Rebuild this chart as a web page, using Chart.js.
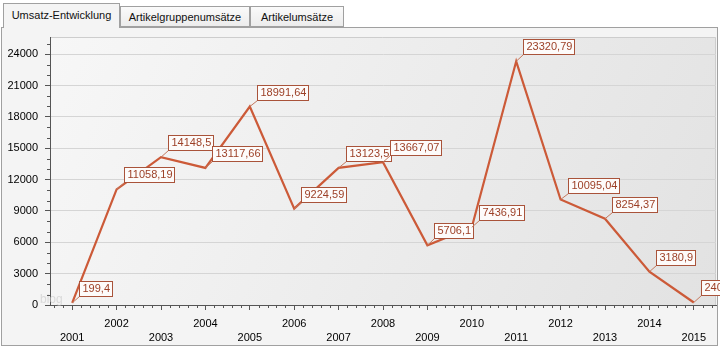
<!DOCTYPE html>
<html><head><meta charset="utf-8">
<script src="https://cdn.jsdelivr.net/npm/chart.js@4.4.1/dist/chart.umd.min.js"></script>
<style>
html,body{margin:0;padding:0;background:#ffffff;width:720px;height:347px;overflow:hidden;font-family:"Liberation Sans",Arial,sans-serif;}
#panel{position:absolute;left:1px;top:27px;width:715px;height:317px;border:1px solid #a0a0a0;background:#f4f4f4;}
.tab{position:absolute;box-sizing:border-box;border:1px solid #a0a0a0;font-size:11px;color:#111;text-align:center;background:linear-gradient(#fafafa,#ececec);}
#t1{left:3px;top:3px;width:117px;height:25px;line-height:23px;background:#f4f4f4;border-bottom:none;z-index:3;}
#t2{left:120px;top:6px;width:130px;height:21px;line-height:20px;}
#t3{left:250px;top:6px;width:94px;height:21px;line-height:20px;}
#wrap{position:absolute;left:0;top:0;width:720px;height:347px;z-index:2;}
</style></head>
<body>
<div id="panel"></div>
<div class="tab" id="t1">Umsatz-Entwicklung</div>
<div class="tab" id="t2">Artikelgruppenumsätze</div>
<div class="tab" id="t3">Artikelumsätze</div>
<div id="wrap"><canvas id="c" width="720" height="347"></canvas></div>
<script>
const years = ['2001','2002','2003','2004','2005','2006','2007','2008','2009','2010','2011','2012','2013','2014','2015'];
const sales = [199.4, 11058.19, 14148.5, 13117.66, 18991.64, 9224.59, 13123.5, 13667.07, 5706.1, 7436.91, 23320.79, 10095.04, 8254.37, 3180.9, 240];
const yTicks = [0, 3000, 6000, 9000, 12000, 15000, 18000, 21000, 24000];

const FONT = '"Liberation Sans", Arial, sans-serif';

const bgPlugin = {
  id: 'bg',
  beforeDraw(chart) {
    const {ctx, chartArea: a} = chart;
    ctx.save();
    const g = ctx.createLinearGradient(a.left, a.top, a.right, a.bottom);
    g.addColorStop(0, '#f7f7f7');
    g.addColorStop(1, '#e2e2e2');
    ctx.fillStyle = g;
    ctx.fillRect(a.left, a.top, a.right - a.left, a.bottom - a.top);
    ctx.strokeStyle = '#cdcdcd';
    ctx.lineWidth = 1;
    ctx.beginPath();
    ctx.moveTo(a.left, a.top + 0.5);
    ctx.lineTo(a.right - 0.5, a.top + 0.5);
    ctx.lineTo(a.right - 0.5, a.bottom);
    ctx.stroke();
    ctx.restore();
  },
  afterDraw(chart) {
    const {ctx, chartArea: a} = chart;
    ctx.save();
    ctx.fillStyle = 'rgba(200,200,200,0.6)';
    ctx.font = '12px ' + FONT;
    ctx.textBaseline = 'bottom';
    ctx.fillText('blog', a.left - 10, a.bottom + 1);
    ctx.restore();
  }
};

const minorPlugin = {
  id: 'minor',
  afterDraw(chart) {
    const {ctx, chartArea: a} = chart;
    const xs = chart.scales.x, ys = chart.scales.y;
    ctx.save();
    ctx.strokeStyle = '#555';
    ctx.lineWidth = 1;
    ctx.beginPath();
    for (let v = 1000; v <= ys.max; v += 1000) {
      if (v % 3000 === 0) continue;
      const y = Math.round(ys.getPixelForValue(v)) + 0.5;
      ctx.moveTo(a.left - 3, y); ctx.lineTo(a.left, y);
    }
    for (let i = -1; i < years.length; i++) {
      for (let k = 1; k < 5; k++) {
        const v = i + k / 5;
        if (v < -0.5 || v > years.length - 0.5) continue;
        const x = Math.round(xs.getPixelForValue(v)) + 0.5;
        ctx.moveTo(x, a.bottom); ctx.lineTo(x, a.bottom + 3);
      }
    }
    ctx.stroke();
    ctx.restore();
  }
};

const labelPlugin = {
  id: 'vlabels',
  afterDatasetsDraw(chart) {
    const {ctx} = chart;
    const meta = chart.getDatasetMeta(0);
    ctx.save();
    ctx.font = '11px ' + FONT;
    ctx.textBaseline = 'middle';
    meta.data.forEach((pt, i) => {
      const txt = String(sales[i]).replace('.', ',');
      const tw = ctx.measureText(txt).width;
      const bx = Math.round(pt.x + 7) + 0.5;
      const by = Math.round(pt.y - 7) + 0.5;
      const w = Math.round(tw + 5), h = 15;
      ctx.strokeStyle = '#c4785e';
      ctx.lineWidth = 1;
      ctx.beginPath();
      ctx.moveTo(pt.x, pt.y); ctx.lineTo(bx, by);
      ctx.stroke();
      ctx.fillStyle = '#fdfbfa';
      ctx.fillRect(bx, by - h, w, h);
      ctx.strokeStyle = '#a9533a';
      ctx.strokeRect(bx, by - h, w, h);
      ctx.fillStyle = '#9c3f26';
      ctx.fillText(txt, bx + 3, by - h / 2);
    });
    ctx.restore();
  }
};

new Chart(document.getElementById('c'), {
  type: 'line',
  data: {
    labels: years,
    datasets: [{
      data: sales,
      borderColor: '#cc5a38',
      borderWidth: 2.2,
      pointRadius: 0,
      tension: 0,
      clip: false
    }]
  },
  options: {
    responsive: false,
    animation: false,
    devicePixelRatio: 1,
    layout: {padding: {left: 2, right: 4, top: 37, bottom: 4}},
    plugins: {legend: {display: false}, tooltip: {enabled: false}},
    scales: {
      x: {
        type: 'category',
        offset: true,
        grid: {drawOnChartArea: false, drawTicks: true, tickLength: 5, tickColor: '#555', offset: false},
        border: {display: true, color: '#555'},
        ticks: {
          autoSkip: false, maxRotation: 0, color: '#000', padding: 7,
          font: {family: FONT, size: 11, lineHeight: 14 / 11},
          callback: (v, i) => i % 2 === 0 ? ['', years[i]] : [years[i], '']
        },
        afterFit: s => { s.height = 38; }
      },
      y: {
        min: 0, max: 25650,
        afterBuildTicks: s => { s.ticks = yTicks.map(v => ({value: v})); },
        grid: {color: '#d5d5d5', tickColor: '#555', tickLength: 5},
        border: {display: true, color: '#555'},
        ticks: {color: '#000', padding: 7, font: {family: FONT, size: 11}, callback: v => String(v)},
        afterFit: s => { s.width = 48; }
      }
    }
  },
  plugins: [bgPlugin, minorPlugin, labelPlugin]
});
</script>
</body></html>
